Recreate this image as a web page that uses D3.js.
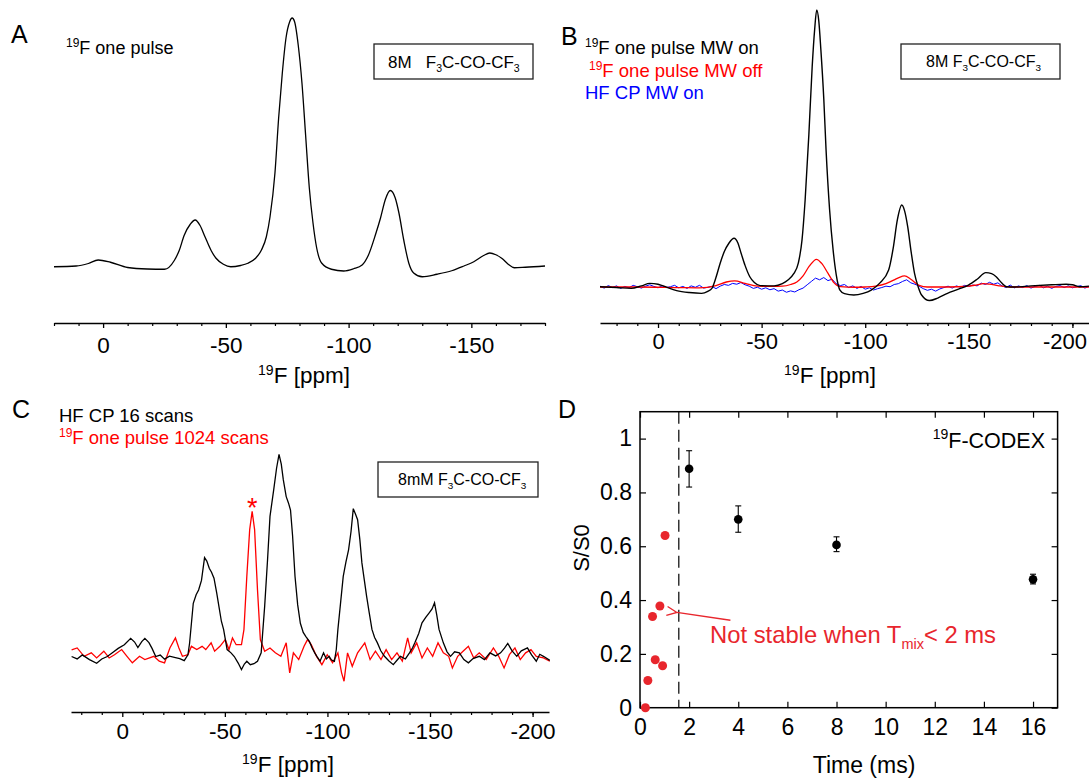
<!DOCTYPE html>
<html><head><meta charset="utf-8">
<script src="https://cdn.jsdelivr.net/npm/d3@7"></script>
<style>body{margin:0;background:#fff} svg text{font-family:"Liberation Sans",Arial,Helvetica,sans-serif}</style>
</head><body><svg id="c" width="1089" height="779"></svg>
<script>
// ---------- DATA ----------
// Panel A: 19F one pulse, [ppm, intensity]
const specA = [[20,0.5],[11,0.8],[6,1.8],[2,3.2],[-3,2.3],[-10,0.2],[-18,-0.4],[-25,-0.5],[-29,3],[-31,7],[-33,13],[-35.5,17.5],[-37.5,19.2],[-39.5,17],[-41.5,12.5],[-44,7],[-46,3.9],[-49,1.5],[-52,0.5],[-56,1],[-59,1.9],[-62,3.8],[-64.5,7.2],[-66.5,12.5],[-68,20.5],[-70,38],[-71.5,60],[-73,78],[-74.5,92],[-76,98.5],[-77,100],[-78,98.5],[-79.5,89],[-81,74],[-82.5,53],[-84,32],[-85.5,18],[-87,8],[-89,2],[-93,-0.5],[-98,-1.2],[-102,-0.3],[-105.5,1.2],[-108,5],[-111,13.5],[-113,20],[-115,27.5],[-117,31],[-119,28],[-120.5,22],[-122.5,11],[-124.5,2],[-126.5,-2],[-130,-3.5],[-136,-2.5],[-142,-1.1],[-147,0.8],[-151,2.5],[-155,5],[-157.5,6],[-160,5.3],[-162.5,3.8],[-165,1.5],[-167.5,0.1],[-172,0.3],[-180,0.8]];
// Panel B
const specBBlack = [[28,0.1],[20,-0.2],[13,-0.5],[8,0.4],[4,1.3],[0,1],[-2.5,0.4],[-9,-1.3],[-15,-2],[-21,-2.3],[-24,-1.6],[-26,-0.5],[-28,3.5],[-30,8.6],[-32,12.8],[-34.2,15.8],[-36.7,17.6],[-38.5,16],[-40.1,12.2],[-42,7.8],[-44.3,3.7],[-46.5,1.6],[-49.3,0.5],[-56,0.4],[-60,1.2],[-62.7,2.5],[-65.5,4.8],[-67.7,8.6],[-69.5,17],[-71,31.4],[-72.8,55],[-74.4,79.5],[-75.6,93],[-76.6,100],[-77.6,96],[-78.6,85.6],[-80,68],[-81.1,49.5],[-82.8,28],[-84.5,13.4],[-86,4.5],[-87.8,-1.1],[-90,-2.4],[-94.5,-2.9],[-99,-2.3],[-102.9,-1.1],[-107,1.4],[-111.3,6.1],[-113.5,14],[-115.5,24.2],[-117.6,29.6],[-119,27.5],[-120.5,21.8],[-122.2,12.5],[-123.8,4.9],[-125.5,0.2],[-127.2,-2.9],[-131,-4.9],[-135,-4],[-139.7,-2.3],[-145,-0.8],[-149.8,0.7],[-154,2.8],[-158.2,5.2],[-161,4.8],[-163.2,3.7],[-165.8,1.5],[-168.2,0.1],[-172,0],[-180,0.4],[-190,0.8],[-197,1],[-200,0.8],[-203.4,0.1],[-208,0.3]];
const specBRed = [[28,0],[10,0],[-10,-0.2],[-20,-0.3],[-28,0.5],[-33,1.8],[-37,2.2],[-42,1.3],[-48,0.3],[-55,0.2],[-60,0.3],[-64,0.9],[-67,1.8],[-70,4],[-73,7.5],[-76.5,10],[-79,8.5],[-82,5],[-85,1.5],[-88,0.1],[-95,-0.1],[-100,0],[-105,0.3],[-110,1.2],[-114,2.6],[-116,3.3],[-119,4],[-122,2.8],[-126,0.6],[-130,0],[-140,0],[-150,0.3],[-154,0.8],[-157,1.2],[-160,1],[-164,0.5],[-170,0],[-185,0],[-208,0]];
const specBBlue = [[28,0.3],[26,-0.4],[24,0.5],[22,-0.2],[20,0.4],[18,-0.5],[16,0.2],[14,-0.3],[12,0.6],[10,0.1],[8,-0.4],[6,0.3],[4,0.8],[2,0.2],[0,-0.3],[-2,0.4],[-4,-0.2],[-6,0.1],[-8,0.6],[-10,-0.3],[-12,0.2],[-14,-0.5],[-16,0.4],[-18,-0.1],[-20,0.6],[-22,-0.4],[-24,-0.1],[-26,0.2],[-28,-0.6],[-30,0.3],[-32,0.9],[-34,0.6],[-36,1.3],[-38,1.0],[-40,1.6],[-42,0.8],[-44,0.3],[-46,-0.5],[-48,-0.1],[-50,-0.8],[-52,-0.3],[-54,-1.0],[-56,-0.6],[-58,-1.5],[-60,-1.1],[-62,-1.9],[-64,-1.4],[-66,-1.8],[-68,-1.0],[-70,-0.4],[-72,0.8],[-74,2.0],[-76,3.2],[-78,2.6],[-80,3.4],[-82,2.3],[-84,2.8],[-86,1.2],[-88,0.5],[-90,0.9],[-92,-0.2],[-94,0.4],[-96,-0.5],[-98,0.2],[-100,-0.8],[-102,-0.3],[-104,-1.1],[-106,-0.6],[-108,-0.2],[-110,0.3],[-112,0.1],[-114,0.9],[-116,1.2],[-118,2.0],[-120,2.6],[-122,1.5],[-124,1.0],[-126,0.3],[-128,-0.6],[-130,-1.2],[-132,-0.8],[-134,-1.5],[-136,-0.7],[-138,-0.2],[-140,0.3],[-142,-0.4],[-144,0.4],[-146,-0.1],[-148,0.6],[-150,0.2],[-152,0.7],[-154,0.4],[-156,1.4],[-158,0.9],[-160,1.7],[-162,1.0],[-164,1.5],[-166,0.4],[-168,-0.2],[-170,0.7],[-172,-0.3],[-174,0.4],[-176,-0.2],[-178,0.5],[-180,-0.4],[-182,0.2],[-184,0.6],[-186,-0.3],[-188,0.3],[-190,-0.5],[-192,0.2],[-194,0.5],[-196,-0.2],[-198,0.4],[-200,-0.3],[-202,0.1],[-204,0.5],[-206,-0.4],[-208,0.2]];
// Panel C
const specCBlack = [[24.7,0.7],[22,-0.5],[19.5,1.5],[16,-0.8],[12.5,-2.6],[10,-0.5],[7.3,0.7],[4.5,2.8],[2,4.7],[-1,6.5],[-4.1,9.6],[-6,7.8],[-7.6,5.1],[-9.5,8],[-11,9.6],[-13,7.5],[-14.5,4.7],[-16.3,0.7],[-18.5,1.4],[-20.6,-0.6],[-23,0.9],[-25.9,0.2],[-28,-0.3],[-30.2,-1.3],[-32,1.5],[-32.8,7.2],[-34.6,26.8],[-36,31],[-37.2,33.3],[-38.6,38],[-40.1,49.2],[-41.2,47.5],[-42.4,44],[-43.5,42],[-44.7,39.1],[-46,32],[-47.1,25.3],[-48.3,18],[-49.4,13.9],[-51.1,4.1],[-53,2.5],[-54.6,0.7],[-56.5,-2.5],[-58.1,-5.7],[-59.5,-3],[-60.7,-1.6],[-62.4,-3.3],[-64.2,-2.8],[-65.9,-1.6],[-67.7,2.5],[-69.4,25.3],[-70.8,48],[-72,69.4],[-73.8,82.4],[-75.2,93],[-76.4,99.8],[-77.5,95],[-78.5,87.3],[-79.9,79.1],[-81,76],[-82,72.5],[-83,60],[-84.2,39.9],[-85.5,26],[-86.8,17],[-88.2,12.5],[-89.5,10.5],[-91.2,8.1],[-92.5,5],[-93.8,2.5],[-95,0.5],[-96.4,-1.6],[-98.1,2.5],[-99.5,-0.5],[-100.8,0.8],[-102,-1],[-103.4,-1.6],[-104.3,4],[-105.1,14],[-106.5,28],[-107.7,40],[-109,47],[-110.3,53],[-111.5,62],[-112.6,73.2],[-113.7,70.5],[-114.7,67.8],[-115.8,58],[-116.8,46.6],[-118,38],[-119.1,30.2],[-120.4,22],[-121.7,14],[-123,10],[-124.3,7.5],[-126,3.5],[-127.8,0.8],[-130,-1.5],[-132.1,-3.3],[-134,-1],[-135.6,0.8],[-138,-0.5],[-140,2.5],[-141.5,5],[-142.6,7.4],[-144.5,12],[-146.1,17.2],[-148,20],[-149.6,22.1],[-151,24],[-152.2,27],[-153.3,21],[-154.4,14],[-156.5,7.4],[-158.3,3],[-160,0.8],[-162,3],[-164.3,2.5],[-166.5,-0.8],[-168.7,-2.4],[-171,-0.3],[-174,0.8],[-176.5,-0.8],[-179.2,2.5],[-182,1],[-184.4,2.5],[-186.3,4.8],[-187.9,7.1],[-190,3.5],[-192.3,0.8],[-194.5,3.5],[-197.5,4.9],[-199.5,1.5],[-201.8,-1.6],[-203.5,1.8],[-205.3,0.8],[-208.4,-1.2]];
const specCRed = [[24.7,4],[22,4.9],[18.6,0.8],[15.1,2.5],[12.5,0],[9,3.3],[6.4,0],[3.8,1.6],[0.3,4.1],[-2.3,0.8],[-4.9,-2.4],[-8.4,0.8],[-11,-0.8],[-15.4,0.8],[-18,-1.6],[-20.6,-2.4],[-23.2,4.9],[-25.9,9.8],[-27.6,4.9],[-29.3,0.8],[-32,1.6],[-33.7,5.7],[-36.3,4.1],[-38.9,5.7],[-40.7,4.1],[-43.3,7.4],[-45,3.3],[-47.6,5.7],[-50.2,9],[-52,4.1],[-53.7,9.8],[-55.5,6.5],[-58.1,6.5],[-59.3,13.9],[-60.7,40],[-62.1,62.9],[-63.3,71.9],[-64.5,62.9],[-65.9,33.5],[-67.3,9],[-69.4,3.3],[-72,4.9],[-74.6,2.5],[-77.3,0.8],[-79.9,7.4],[-81.6,-7.3],[-83.4,2.5],[-86,-0.8],[-88.6,5.7],[-90.3,9],[-92.1,6.5],[-94.7,0.8],[-97.3,-3.3],[-99.9,1.6],[-102.5,-2.4],[-105.1,2.5],[-106.9,-7.3],[-108.1,-11.4],[-109.8,2.5],[-112.1,-4.1],[-114.7,2.5],[-118.2,7.4],[-120.8,-0.8],[-123.4,3.3],[-126.1,-0.8],[-128.6,4.1],[-131.3,-0.8],[-133.9,2.5],[-136.5,-1.6],[-139.1,9.8],[-140.8,2.5],[-143.5,7.4],[-146.1,0],[-148.7,4.9],[-151.3,0.8],[-153.9,7.4],[-156.5,2.5],[-159.1,0.8],[-160.9,-4.9],[-163.5,0.8],[-166.1,3.3],[-168.7,5.7],[-171.3,0],[-174,2.5],[-177.4,-0.8],[-180.9,4.9],[-183.5,0.8],[-186.1,-4.9],[-188.7,1.6],[-191.4,4.9],[-194,-0.8],[-196.6,2.5],[-199.2,4.1],[-201.8,0.8],[-205.3,0],[-208.4,-1.6]];
// Axis ticks
const ppmMajorA = [0,-50,-100,-150];
const ppmMajorBC = [0,-50,-100,-150,-200];
const ppmMinor = [20,10,-10,-20,-30,-40,-60,-70,-80,-90,-110,-120,-130,-140,-160,-170,-180,-190,-200];
// Panel D: 19F-CODEX
const dTime = [2,4,8,16];
const dVal = [0.888,0.700,0.605,0.477];
const dUpper = [0.955,0.750,0.635,0.496];
const dLower = [0.820,0.652,0.580,0.460];
const dRedTime = [0.22,0.32,0.62,0.92,0.51,0.81,1.02];
const dRedVal = [0.0,0.101,0.178,0.156,0.339,0.378,0.640];
const dTimeTicks = [0,2,4,6,8,10,12,14,16];
const dValTicks = [0,0.2,0.4,0.6,0.8,1];
const dCutoff = 1.58;

// ---------- DRAW ----------
const svg = d3.select("#c");
const RED = "#ff0000", BLUE = "#0000ff", DRED = "#e8262d";
const FONT = '"Liberation Sans",Arial,sans-serif';

function rich(x, y, parts, opts={}) {
  const t = svg.append("text").attr("x", x).attr("y", y)
    .attr("fill", opts.fill || "#000").attr("text-anchor", opts.anchor || "start");
  parts.forEach(p => t.append("tspan").text(p[0]).attr("font-size", p[1]).attr("dy", p[2] || 0));
  return t;
}

function ppmAxis(x, y0, major, pad, fs) {
  const minor = ppmMinor.filter(v => v <= x.domain()[0] && v >= x.domain()[1]);
  const gm = svg.append("g").attr("transform", `translate(0,${y0})`)
    .call(d3.axisBottom(x).tickValues(minor).tickSize(3).tickFormat(""));
  gm.select(".domain").remove();
  gm.selectAll("line").attr("stroke-width", 1.2);
  const g = svg.append("g").attr("transform", `translate(0,${y0})`)
    .call(d3.axisBottom(x).tickValues(major).tickSize(5).tickSizeOuter(0).tickPadding(pad).tickFormat(d => String(d)));
  g.select(".domain").attr("stroke-width", 1.6);
  g.selectAll("line").attr("stroke-width", 1.3);
  g.selectAll("text").attr("font-size", fs).attr("font-family", FONT).attr("fill", "#000");
  return g;
}

function boxLabel(x0, y0, w, h, tx, ty, prefix, fs) {
  svg.append("rect").attr("x", x0).attr("y", y0).attr("width", w).attr("height", h)
    .attr("fill", "none").attr("stroke", "#222").attr("stroke-width", 1.3);
  rich(tx, ty, [[prefix, fs, 0], ["F", fs, 0], ["3", fs*0.62, 4], ["C-CO-CF", fs, -4], ["3", fs*0.62, 4]])
    .attr("xml:space", "preserve").style("white-space", "pre");
}

// ----- Panel A -----
const xA = d3.scaleLinear().domain([20,-180]).range([54,545]);
const yA = d3.scaleLinear().domain([-22,103]).range([323,10.5]);
svg.append("path").datum(specA).attr("fill","none").attr("stroke","#000").attr("stroke-width",1.3)
  .attr("d", d3.line().x(d=>xA(d[0])).y(d=>yA(d[1])).curve(d3.curveMonotoneX));
ppmAxis(xA, 323, ppmMajorA, 9, 22.5);
rich(11, 43, [["A", 25, 0]]);
rich(66, 54, [["19", 12, -7], ["F one pulse", 18, 7]]);
boxLabel(374, 44, 159, 35, 388, 68, "8M   ", 17);
rich(304, 383, [["19", 14, -8], ["F [ppm]", 22.5, 8]], {anchor:"middle"});

// ----- Panel B -----
const xB = d3.scaleLinear().domain([28,-208]).range([600,1089]);
const yB = d3.scaleLinear().domain([-13,100]).range([323,10]);
const lineB = (curve) => d3.line().x(d=>xB(d[0])).y(d=>yB(d[1])).curve(curve);
svg.append("path").datum(specBBlue).attr("fill","none").attr("stroke",BLUE).attr("stroke-width",1)
  .attr("d", lineB(d3.curveLinear));
svg.append("path").datum(specBRed).attr("fill","none").attr("stroke",RED).attr("stroke-width",1.3)
  .attr("d", lineB(d3.curveMonotoneX));
svg.append("path").datum(specBBlack).attr("fill","none").attr("stroke","#000").attr("stroke-width",1.4)
  .attr("d", lineB(d3.curveMonotoneX));
const gBx = ppmAxis(xB, 323, ppmMajorBC, 5, 22);
gBx.selectAll(".tick").filter(d => d === -200).select("text").attr("text-anchor","end").attr("dx", 14);
rich(561, 45, [["B", 25, 0]]);
rich(585, 54, [["19", 12, -7], ["F one pulse MW on", 18.5, 7]]);
rich(589, 77, [["19", 12, -7], ["F one pulse MW off", 18.5, 7]], {fill: RED});
rich(585, 99, [["HF CP MW on", 18.5, 0]], {fill: BLUE});
boxLabel(901, 44, 159, 35, 926, 67, "8M ", 16);
rich(830, 383, [["19", 14, -8], ["F [ppm]", 22.5, 8]], {anchor:"middle"});

// ----- Panel C -----
const xC = d3.scaleLinear().domain([25,-208]).range([71,549]);
const yC = d3.scaleLinear().domain([-26.5,107]).range([712,439.7]);
const lineC = d3.line().x(d=>xC(d[0])).y(d=>yC(d[1]));
svg.append("path").datum(specCRed).attr("fill","none").attr("stroke",RED).attr("stroke-width",1.3).attr("d", lineC);
svg.append("path").datum(specCBlack).attr("fill","none").attr("stroke","#000").attr("stroke-width",1.3).attr("d", lineC);
ppmAxis(xC, 712, ppmMajorBC, 6, 22.5);
rich(12, 418, [["C", 25, 0]]);
rich(59, 422, [["HF CP 16 scans", 18.5, 0]]);
rich(59, 444, [["19", 12, -7], ["F one pulse 1024 scans", 18.5, 7]], {fill: RED});
svg.append("text").attr("x", xC(-63.3)).attr("y", 517).attr("text-anchor","middle")
  .attr("font-size", 27).attr("fill", RED).text("*");
boxLabel(378, 462, 160, 35, 398, 485, "8mM ", 16);
rich(288, 772, [["19", 14, -8], ["F [ppm]", 22.5, 8]], {anchor:"middle"});

// ----- Panel D -----
const xD = d3.scaleLinear().domain([0,17]).range([640,1057.6]);
const yD = d3.scaleLinear().domain([0,1.1]).range([707.7,411.7]);
const gD = svg.append("g");
const axB = gD.append("g").attr("transform","translate(0,707.7)")
  .call(d3.axisBottom(xD).tickValues(dTimeTicks).tickSize(-6).tickSizeOuter(0).tickPadding(11).tickFormat(d3.format("d")));
const axT = gD.append("g").attr("transform","translate(0,411.7)")
  .call(d3.axisTop(xD).tickValues(dTimeTicks).tickSize(-6).tickSizeOuter(0).tickFormat(""));
const axL = gD.append("g").attr("transform","translate(640,0)")
  .call(d3.axisLeft(yD).tickValues(dValTicks).tickSize(-6).tickSizeOuter(0).tickPadding(8).tickFormat(d3.format("~g")));
const axR = gD.append("g").attr("transform","translate(1057.6,0)")
  .call(d3.axisRight(yD).tickValues(dValTicks).tickSize(-6).tickSizeOuter(0).tickFormat(""));
[axB,axT,axL,axR].forEach(a => { a.select(".domain").remove(); a.selectAll("line").attr("stroke-width",1.2); });
[axB,axL].forEach(a => a.selectAll("text").attr("font-size", 23).attr("font-family",FONT).attr("fill","#000"));
gD.append("rect").attr("x", xD(0)).attr("y", yD(1.1)).attr("width", xD(17)-xD(0)).attr("height", yD(0)-yD(1.1))
  .attr("fill","none").attr("stroke","#000").attr("stroke-width",1.5);
// dashed cutoff
gD.append("line").attr("x1", xD(dCutoff)).attr("x2", xD(dCutoff)).attr("y1", yD(1.1)).attr("y2", yD(0))
  .attr("stroke","#000").attr("stroke-width",1.2).attr("stroke-dasharray","12,6");
// error bars
dTime.forEach((t,i) => {
  const g = gD.append("g").attr("stroke","#000").attr("stroke-width",1.1);
  g.append("line").attr("x1",xD(t)).attr("x2",xD(t)).attr("y1",yD(dUpper[i])).attr("y2",yD(dLower[i]));
  g.append("line").attr("x1",xD(t)-3).attr("x2",xD(t)+3).attr("y1",yD(dUpper[i])).attr("y2",yD(dUpper[i]));
  g.append("line").attr("x1",xD(t)-3).attr("x2",xD(t)+3).attr("y1",yD(dLower[i])).attr("y2",yD(dLower[i]));
  gD.append("circle").attr("cx",xD(t)).attr("cy",yD(dVal[i])).attr("r",4.3).attr("fill","#000");
});
dRedTime.forEach((t,i) => {
  gD.append("circle").attr("cx",xD(t)).attr("cy",yD(dRedVal[i])).attr("r",4.5).attr("fill",DRED);
});
// arrow
svg.append("defs").append("marker").attr("id","arr").attr("viewBox","-1 -6 12 12").attr("refX",0).attr("refY",0)
  .attr("markerWidth",12).attr("markerHeight",12).attr("markerUnits","userSpaceOnUse").attr("orient","auto-start-reverse")
  .append("path").attr("d","M10,-4.5 L0,0 L10,4.5").attr("fill","none").attr("stroke",DRED).attr("stroke-width",1.3);
gD.append("line").attr("x1", xD(3.68)).attr("y1", yD(0.325)).attr("x2", xD(1.5)).attr("y2", yD(0.354))
  .attr("stroke", DRED).attr("stroke-width",1.3).attr("marker-end","url(#arr)");
rich(710, 643, [["Not stable when T", 23.8, 0], ["mix", 14.5, 6], ["< 2 ms", 23.8, -6]], {fill: DRED});
rich(1045, 448, [["19", 14, -9], ["F-CODEX", 21.5, 9]], {anchor:"end"});
svg.append("text").attr("transform","translate(589,548) rotate(-90)").attr("text-anchor","middle")
  .attr("font-size",22).text("S/S0");
svg.append("text").attr("x",864).attr("y",773).attr("text-anchor","middle").attr("font-size",23).text("Time (ms)");
rich(558, 418, [["D", 25, 0]]);
</script></body></html>
